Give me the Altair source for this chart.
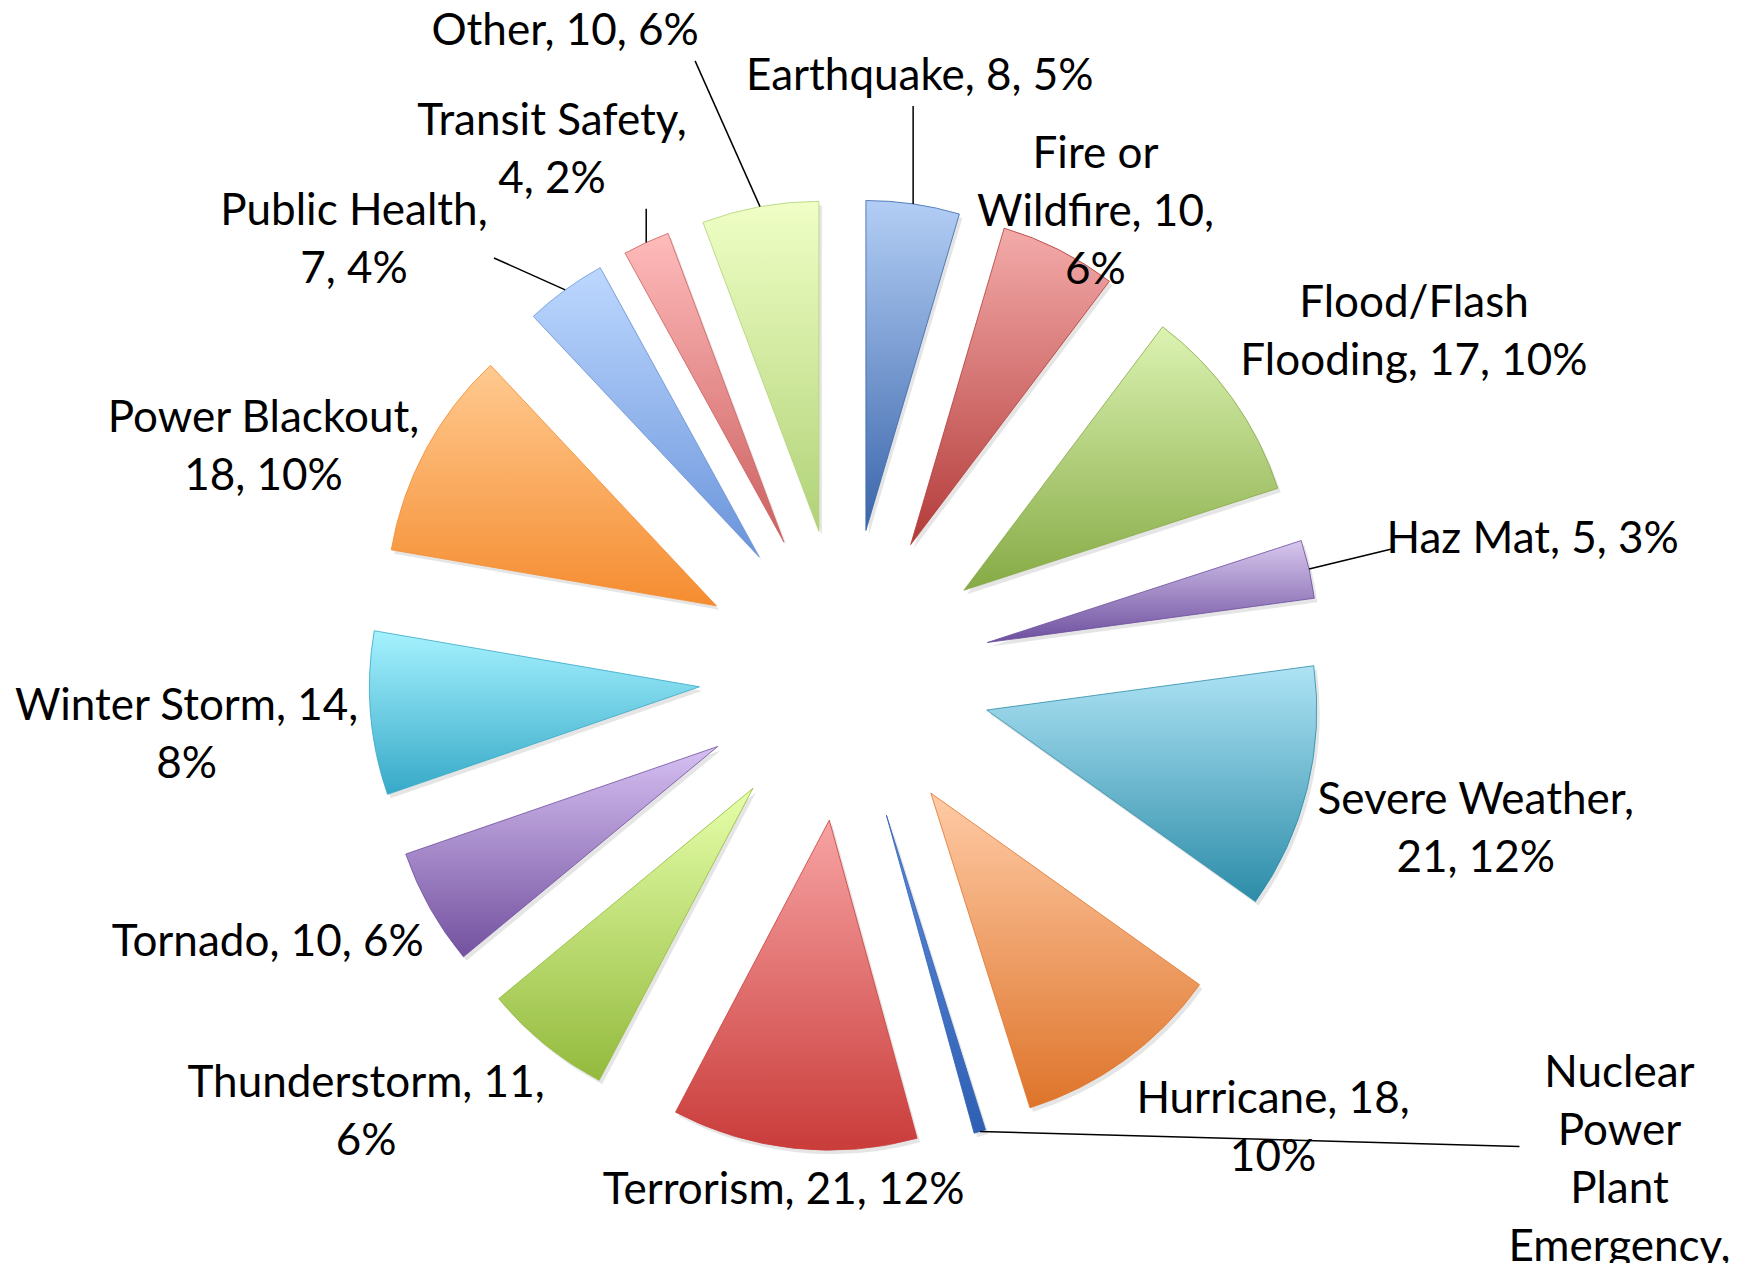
import textwrap
import math
import altair as alt
import pandas as pd

# ---------------- data ----------------
categories = [
    "Earthquake", "Fire or Wildfire", "Flood/Flash Flooding", "Haz Mat",
    "Severe Weather", "Hurricane", "Nuclear Power Plant Emergency", "Terrorism",
    "Thunderstorm", "Tornado", "Winter Storm", "Power Blackout",
    "Public Health", "Transit Safety", "Other",
]
counts = [8, 10, 17, 5, 21, 18, 1, 21, 11, 10, 14, 18, 7, 4, 10]

# ---------------- style / layout ----------------
light_colors = [
    "#B3CEF5", "#F3ABAA", "#DCF3B2", "#D8C8EE", "#AEE3F5", "#FFCBA6",
    "#5C8CDB", "#F7A3A3", "#E6FFAA", "#D6C0F2", "#A6F2FF", "#FFCA90",
    "#BDD8FF", "#FFBBBB", "#F0FFC6",
]
dark_colors = [
    "#3A65AA", "#B33B39", "#86AA45", "#6D4F9E", "#2C8CA8", "#DE742A",
    "#2F5FB3", "#C93C3A", "#93BA3D", "#73519F", "#36A9C7", "#F58C30",
    "#6A94DA", "#CC5F5F", "#B0D277",
]
wrap_width = [40, 13, 17, 40, 15, 14, 10, 40, 17, 40, 17, 15, 14, 15, 40]
# manual label drags (screen px, right / down), as in the source chart
label_nudge = {
    "Earthquake": (-44, -84),
    "Fire or Wildfire": (-87, 63),
    "Haz Mat": (70, -13),
    "Severe Weather": (5, 10),
    "Terrorism": (30, 0),
    "Winter Storm": (0, 12),
    "Power Blackout": (0, 60),
    "Public Health": (-63, 20),
    "Transit Safety": (37, -21),
    "Other": (-146, -132),
    "Nuclear Power Plant Emergency": (579, -100),
}

W, H = 1730, 1255
CX, CY = 837, 667          # pie centre inside the chart
RADIUS = 330
EXPLODE = 146
R0 = 490
CHAR_W = 20
LINE_H = 58
FONT = "Lato"
FONT_SIZE = 44

total = sum(counts)
rows = []
for i, (c, v, w) in enumerate(zip(categories, counts, wrap_width)):
    text = f"{c}, {v}, {round(100 * v / total)}%"
    lines = textwrap.wrap(text, w)
    nx, ny = label_nudge.get(c, (0, 0))
    rows.append(dict(order=i, cat=c, value=v, label="\n".join(lines),
                     nlines=len(lines), maxchars=max(len(l) for l in lines),
                     nx=nx, ny=ny))
df = pd.DataFrame(rows)

xs = alt.Scale(domain=[-CX, W - CX], nice=False, zero=False)
ys = alt.Scale(domain=[-(H - CY), CY], nice=False, zero=False)
ts = alt.Scale(domain=[0, total], range=[0, 2 * math.pi])

base = alt.Chart(df).transform_window(
    a1="sum(value)", sort=[alt.SortField("order")], frame=[None, 0]
).transform_calculate(
    a0="datum.a1 - datum.value",
    mid=f"(datum.a1 - datum.value / 2) / {total} * 2 * PI",
    ux="sin(datum.mid)",
    uy="cos(datum.mid)",
    cx=f"{EXPLODE} * datum.ux",
    cy=f"{EXPLODE} * datum.uy",
    shx="datum.cx + 3",
    shy="datum.cy - 4",
    hw=f"datum.maxchars * {CHAR_W} / 2",
    hh=f"datum.nlines * {LINE_H} / 2",
    lx=f"{R0} * datum.ux + datum.hw * clamp(2 * datum.ux, -1, 1) + datum.nx",
    ly=f"{R0} * datum.uy + datum.hh * clamp(2 * datum.uy, -1, 1) - datum.ny",
    ty=f"datum.ly + (datum.nlines - 1) * {LINE_H} / 2",
    sx=f"{EXPLODE + RADIUS} * datum.ux",
    sy=f"{EXPLODE + RADIUS} * datum.uy",
    fx="clamp(datum.sx, datum.lx - datum.hw, datum.lx + datum.hw)",
    fy="clamp(datum.sy, datum.ly - datum.hh, datum.ly + datum.hh)",
    llen="sqrt(pow(datum.fx - datum.sx, 2) + pow(datum.fy - datum.sy, 2))",
    dxo="max(abs(datum.sx - datum.lx) - datum.hw, 0)",
    dyo="max(abs(datum.sy - datum.ly) - datum.hh, 0)",
    ex="datum.fx",
    ey="datum.dxo > datum.dyo ? clamp(datum.sy, datum.ly - 0.3 * datum.hh, datum.ly + 0.3 * datum.hh) : datum.fy",
)

theta_enc = dict(
    theta=alt.Theta("a0:Q", scale=ts, stack=False),
    theta2=alt.Theta2("a1:Q"),
)
arc_enc = dict(
    x=alt.X("cx:Q", scale=xs, axis=None),
    y=alt.Y("cy:Q", scale=ys, axis=None),
    **theta_enc,
)

shadow = base.mark_arc(radius=RADIUS, fill="black", opacity=0.10, strokeWidth=0).encode(
    x=alt.X("shx:Q", scale=xs, axis=None),
    y=alt.Y("shy:Q", scale=ys, axis=None),
    **theta_enc,
)

slice_layers = []
for c, lc, dc in zip(categories, light_colors, dark_colors):
    grad = {
        "gradient": "linear", "x1": 0, "y1": 0, "x2": 0, "y2": 1,
        "stops": [{"offset": 0, "color": lc}, {"offset": 1, "color": dc}],
    }
    slice_layers.append(
        base.transform_filter(alt.datum.cat == c).mark_arc(
            radius=RADIUS, fill=grad, stroke=dc, strokeWidth=1, strokeOpacity=0.8
        ).encode(**arc_enc)
    )

leaders = base.transform_filter("datum.llen > 25").mark_rule(
    color="black", strokeWidth=1.5
).encode(
    x=alt.X("sx:Q", scale=xs, axis=None),
    y=alt.Y("sy:Q", scale=ys, axis=None),
    x2="ex:Q",
    y2="ey:Q",
)

labels = base.mark_text(
    font=FONT, fontSize=FONT_SIZE, lineBreak="\n", lineHeight=LINE_H,
    align="center", baseline="middle", color="black",
).encode(
    x=alt.X("lx:Q", scale=xs, axis=None),
    y=alt.Y("ty:Q", scale=ys, axis=None),
    text="label:N",
)

chart = alt.layer(shadow, *slice_layers, leaders, labels).properties(
    width=W, height=H, padding=0, autosize=alt.AutoSizeParams(type="none"),
    background="white",
).configure_view(stroke=None)

chart.save("out.html", embed_options={"renderer": "svg", "actions": False})
